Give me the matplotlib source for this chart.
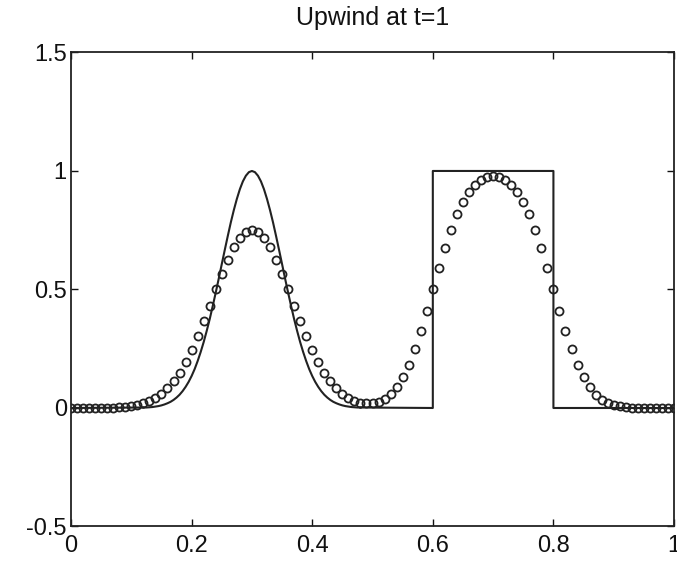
import numpy as np
import matplotlib
matplotlib.use("Agg")
import matplotlib.pyplot as plt

plt.rcParams['font.family'] = ['Liberation Sans', 'DejaVu Sans']

# Exact solution: Gaussian pulse centred at 0.3, sampled every 0.005 on [0.12, 0.48]
gauss_x = np.round(np.linspace(0.12, 0.48, 73), 3)
gauss_u = [0.002, 0.002, 0.003, 0.004, 0.006, 0.008, 0.011, 0.015, 0.020, 0.026,
           0.034, 0.044, 0.056, 0.071, 0.089, 0.110, 0.135, 0.164, 0.198, 0.236,
           0.278, 0.325, 0.375, 0.430, 0.487, 0.546, 0.607, 0.667, 0.726, 0.783,
           0.835, 0.882, 0.923, 0.956, 0.980, 0.995, 1.000, 0.995, 0.980, 0.956,
           0.923, 0.882, 0.835, 0.783, 0.726, 0.667, 0.607, 0.546, 0.487, 0.430,
           0.375, 0.325, 0.278, 0.236, 0.198, 0.164, 0.135, 0.110, 0.089, 0.071,
           0.056, 0.044, 0.034, 0.026, 0.020, 0.015, 0.011, 0.008, 0.006, 0.004,
           0.003, 0.002, 0.002]

# Exact solution: flat parts and the square wave on [0.6, 0.8]
left_x = [0.0, 0.12]
left_u = [0.0, 0.002]
square_x = [0.48, 0.6, 0.6, 0.8, 0.8, 1.0]
square_u = [0.002, 0.0, 1.0, 1.0, 0.0, 0.0]

# Upwind solution on the grid x = 0, 0.01, ..., 1
grid_x = np.round(np.linspace(0.0, 1.0, 101), 2)
upwind_u = [0.000, 0.000, 0.000, 0.000, 0.000, 0.001, 0.001, 0.002, 0.003, 0.005,
            0.008, 0.013, 0.020, 0.029, 0.042, 0.060, 0.083, 0.112, 0.149, 0.192,
            0.244, 0.302, 0.365, 0.432, 0.500, 0.566, 0.626, 0.678, 0.717, 0.742,
            0.750, 0.742, 0.717, 0.678, 0.626, 0.566, 0.500, 0.432, 0.365, 0.302,
            0.244, 0.192, 0.149, 0.112, 0.083, 0.060, 0.043, 0.031, 0.023, 0.020,
            0.020, 0.026, 0.038, 0.058, 0.088, 0.129, 0.182, 0.248, 0.325, 0.410,
            0.500, 0.590, 0.675, 0.752, 0.818, 0.871, 0.913, 0.942, 0.962, 0.973,
            0.977, 0.973, 0.962, 0.942, 0.913, 0.871, 0.818, 0.752, 0.675, 0.590,
            0.500, 0.410, 0.325, 0.248, 0.182, 0.129, 0.087, 0.056, 0.035, 0.021,
            0.012, 0.007, 0.003, 0.002, 0.001, 0.000, 0.000, 0.000, 0.000, 0.000,
            0.000]

x_ticks = [0, 0.2, 0.4, 0.6, 0.8, 1]
x_labels = ['0', '0.2', '0.4', '0.6', '0.8', '1']
y_ticks = [-0.5, 0, 0.5, 1, 1.5]
y_labels = ['-0.5', '0', '0.5', '1', '1.5']

fig = plt.figure(figsize=(6.77, 5.61), dpi=100)
ax = fig.add_axes([0.1049, 0.0615, 0.8907, 0.845])

line_col = '#222222'
ax.plot(left_x, left_u, color=line_col, lw=1.5)
ax.plot(gauss_x, gauss_u, color=line_col, lw=1.5)
ax.plot(square_x, square_u, color=line_col, lw=1.5)
ax.plot(grid_x, upwind_u, linestyle='none', marker='o', markersize=5.8,
        markerfacecolor='none', markeredgecolor=line_col, markeredgewidth=1.3)

ax.set_xlim(0, 1)
ax.set_ylim(-0.5, 1.5)
ax.set_xticks(x_ticks)
ax.set_xticklabels(x_labels)
ax.set_yticks(y_ticks)
ax.set_yticklabels(y_labels)
ax.tick_params(direction='in', length=5, width=1, top=True, right=True,
               labelsize=17, colors='#111111')
ax.tick_params(axis='x', pad=6)
ax.tick_params(axis='y', pad=3)
for s in ax.spines.values():
    s.set_linewidth(1.3)
    s.set_color('#222222')

ax.set_title('Upwind at t=1', fontsize=18, pad=20, color='#111111')

fig.savefig('out.png', dpi=100)
